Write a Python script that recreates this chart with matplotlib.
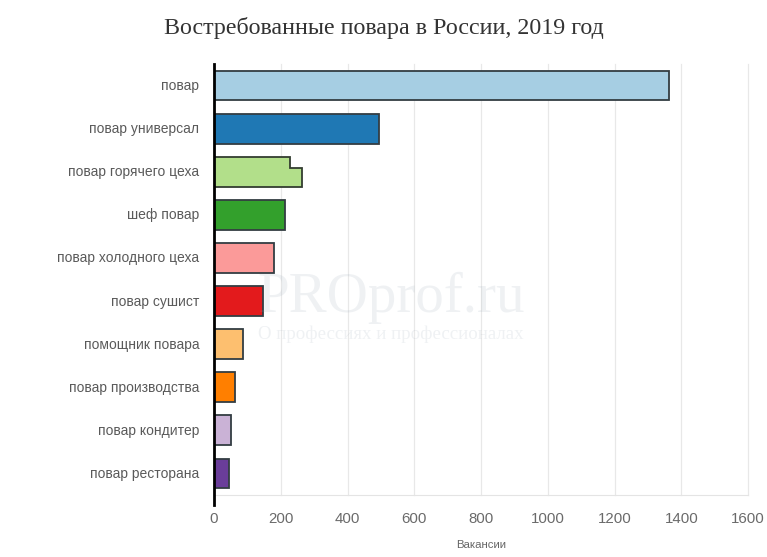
import matplotlib
matplotlib.use("Agg")
import matplotlib.pyplot as plt
from matplotlib.transforms import ScaledTranslation

categories = ["повар", "повар универсал", "повар горячего цеха", "шеф повар",
              "повар холодного цеха", "повар сушист", "помощник повара",
              "повар производства", "повар кондитер", "повар ресторана"]
vacancies = [1364, 493, 228, 213, 180, 146, 87, 64, 51, 46]
# third category has a second, longer record that shows as a step
extra_value = 263
extra_index = 2
colors = ["#a6cee3", "#1f78b4", "#b2df8a", "#33a02c", "#fb9a99",
          "#e31a1c", "#fdbf6f", "#ff7f00", "#cab2d6", "#6a3d9a"]
x_ticks = [0, 200, 400, 600, 800, 1000, 1200, 1400, 1600]

W, H = 767, 557
plt.rcParams['font.family'] = ['Liberation Sans', 'DejaVu Sans']

fig = plt.figure(figsize=(W / 100, H / 100), dpi=100)
ax = fig.add_axes([214 / W, 1 - 495 / H, (748 - 214) / W, (495 - 64) / H])

bar_h = 0.69

for i, (v, c) in enumerate(zip(vacancies, colors)):
    if i == extra_index:
        # step outline made of the two values
        top, mid, bot = i - bar_h / 2, i - bar_h / 8, i + bar_h / 2
        ax.fill([0, v, v, extra_value, extra_value, 0],
                [top, top, mid, mid, bot, bot],
                facecolor=c, edgecolor="#333d30", linewidth=1.3, zorder=3)
    else:
        ax.barh(i, v, height=bar_h, color=c, edgecolor="#333d42",
                linewidth=1.3, zorder=3)

ax.set_xlim(0, 1600)
ax.set_ylim(9.5, -0.5)
ax.set_yticks(range(len(categories)))
ax.set_yticklabels(categories, fontsize=10, color="#5a5a5a")
ax.set_xticks(x_ticks)
ax.set_xticklabels([str(t) for t in x_ticks], fontsize=10.8, color="#6a6a6a")
ax.tick_params(axis='both', length=0)
ax.tick_params(axis='y', pad=10.5)
ax.tick_params(axis='x', pad=12.5)
ax.grid(axis='x', color="#e8e8e8", linewidth=0.9, zorder=0)
ax.set_axisbelow(True)

# the last gridline sits right on the axes edge
for line in ax.get_xgridlines():
    line.set_clip_on(False)

# nudge category labels up one pixel
for label in ax.get_yticklabels():
    label.set_transform(label.get_transform() + ScaledTranslation(0, 1 / 100, fig.dpi_scale_trans))

for side in ['top', 'right', 'left']:
    ax.spines[side].set_visible(False)
ax.spines['bottom'].set_color("#e4e4e4")

# black zero line runs a little past the plot area
ax.plot([0, 0], [1.0, -0.023], transform=ax.get_xaxis_transform(), color="black",
        linewidth=2, clip_on=False, zorder=4)

fig.text(384 / W, 1 - 28 / H, "Востребованные повара в России, 2019 год",
         family=['Liberation Serif', 'DejaVu Serif'], fontsize=17.3, color="#333333",
         ha='center', va='center')
fig.text(481 / W, 1 - 545 / H, "Вакансии", fontsize=8.2, color="#666666",
         ha='center', va='center')

# faint watermark over the chart
fig.text(391 / W, 1 - 298 / H, "PROprof.ru", family=['Liberation Serif', 'DejaVu Serif'],
         fontsize=41, color="#8fa0b0", alpha=0.14, ha='center', va='center', zorder=10)
fig.text(391 / W, 1 - 334 / H, "О профессиях и профессионалах",
         family=['Liberation Serif', 'DejaVu Serif'], fontsize=13.6, color="#8fa0b0",
         alpha=0.14, ha='center', va='center', zorder=10)

fig.savefig("out.png", dpi=100)
